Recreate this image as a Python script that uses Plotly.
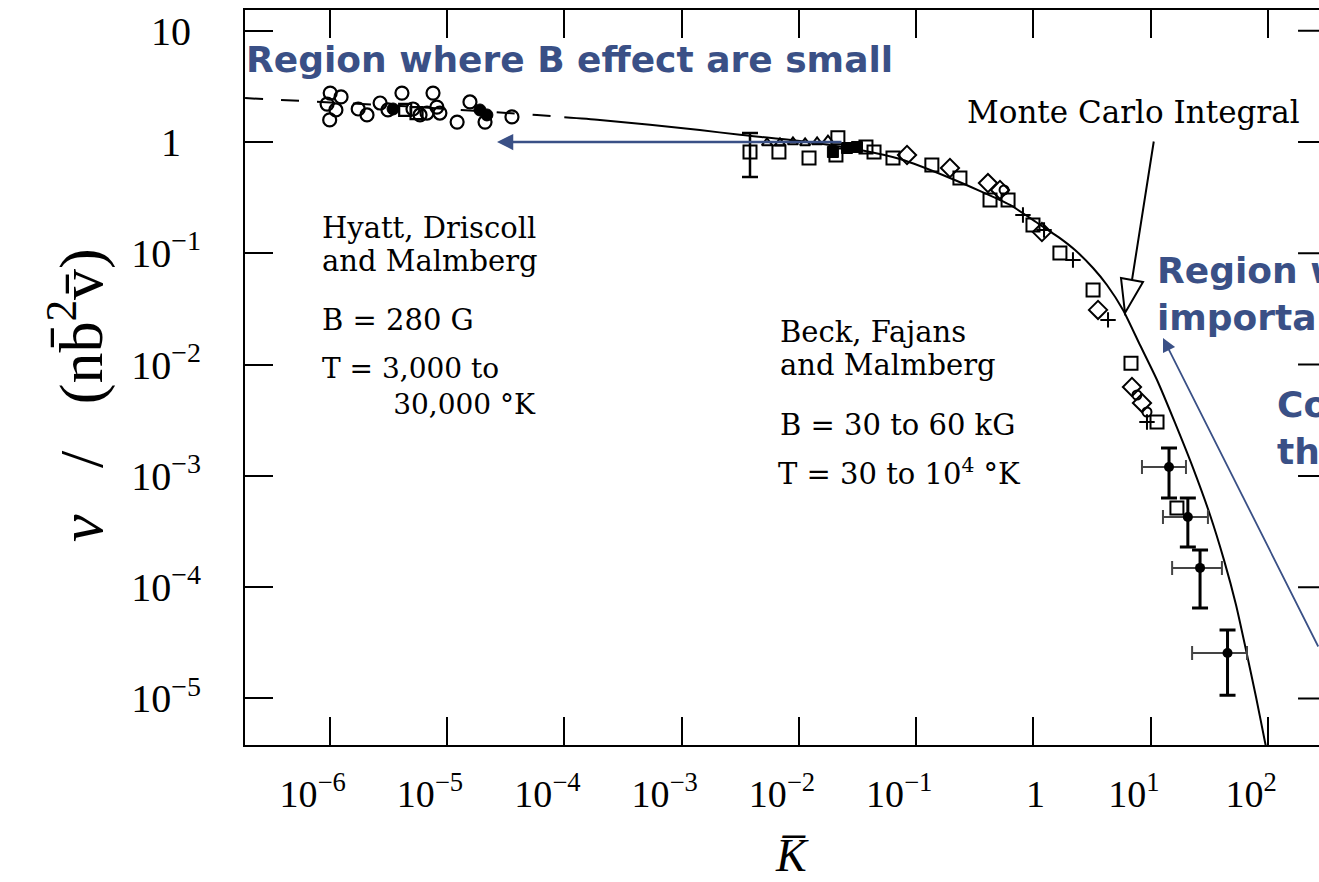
import plotly.graph_objects as go

# ---------------- data ----------------
# Monte Carlo integral (theory); drawn dashed below DASH_UNTIL
theory_kappa = [1.9e-7, 3.97e-6, 5.85e-5, 1.0e-4, 2.01e-4, 1.43e-3, 3.15e-3, 1.02e-2,
                3.32e-2, 7.28e-2, 0.194, 0.631, 1.05, 1.68, 2.26, 3.22, 4.23, 5.80,
                8.09, 11.3, 16.1, 22.9, 32.0, 42.1, 53.3, 64.8, 78.9, 94.1, 97.9]
theory_nu = [2.48, 2.11, 1.75, 1.67, 1.58, 1.28, 1.16, 1.02,
             0.848, 0.703, 0.475, 0.272, 0.191, 0.137, 0.107, 0.0738, 0.0519, 0.031,
             0.0150, 7.27e-3, 2.99e-3, 1.18e-3, 4.45e-4, 1.75e-4, 6.92e-5, 2.73e-5,
             1.03e-5, 4.07e-6, 3.31e-6]
DASH_UNTIL = 1.0e-4

# Hyatt, Driscoll and Malmberg
hyatt_open_kappa = [1.01e-6, 9.5e-7, 1.13e-6, 1.0e-6, 1.25e-6, 1.75e-6, 2.08e-6, 2.69e-6,
                    3.14e-6, 4.13e-6, 5.13e-6, 5.89e-6, 6.75e-6, 7.6e-6, 8.2e-6, 8.7e-6,
                    1.22e-5, 1.57e-5, 2.11e-5, 3.58e-5]
hyatt_open_nu = [2.75, 2.19, 1.94, 1.58, 2.54, 1.98, 1.75, 2.24,
                 1.94, 2.75, 1.98, 1.75, 1.82, 2.75, 2.06, 1.82,
                 1.51, 2.29, 1.51, 1.68]
hyatt_filled_kappa = [3.47e-6, 1.91e-5, 2.19e-5]
hyatt_filled_nu = [1.98, 1.94, 1.75]
hyatt_square_kappa = [4.4e-6, 5.5e-6]
hyatt_square_nu = [1.94, 1.82]

# Beck, Fajans and Malmberg
beck_square_kappa = [6.76e-3, 1.22e-2, 2.07e-2, 2.15e-2, 3.73e-2, 4.37e-2, 6.34e-2, 0.136,
                     0.236, 0.426, 0.607, 0.99, 1.68, 3.22, 6.78, 11.3, 16.7]
beck_square_nu = [0.813, 0.718, 0.764, 1.09, 0.902, 0.813, 0.718, 0.621,
                  0.475, 0.301, 0.301, 0.180, 0.1007, 0.0468, 0.0103, 3.05e-3, 5.15e-4]
beck_diamond_kappa = [8.35e-2, 0.194, 0.409, 0.518, 1.18, 3.55, 6.91, 8.41]
beck_diamond_nu = [0.764, 0.584, 0.428, 0.371, 0.155, 0.031, 6.29e-3, 4.52e-3]
beck_triangle_kappa = [5.35e-3, 6.9e-3, 8.9e-3, 1.13e-2, 1.43e-2, 1.77e-2]
beck_triangle_nu = [0.98, 0.98, 1.0, 0.98, 1.0, 1.04]
beck_cross_kappa = [0.813, 1.23, 2.17, 4.32, 9.28]
beck_cross_nu = [0.221, 0.162, 0.0871, 0.0252, 3.05e-3]
beck_circle_kappa = [0.561, 7.62, 9.28]
beck_circle_nu = [0.371, 5.33e-3, 3.75e-3]
beck_filled_kappa = [1.95e-2, 2.57e-2, 3.13e-2]
beck_filled_nu = [0.813, 0.883, 0.902]

# single point with vertical error bar
eb_kappa = [3.83e-3]
eb_nu = [0.813]
eb_nu_lo = [0.485]
eb_nu_hi = [1.205]

# strongly magnetized points with error bars in both directions
mag_kappa = [14.3, 20.7, 26.3, 45.1]
mag_kappa_lo = [8.41, 12.7, 15.2, 22.5]
mag_kappa_hi = [19.95, 30.7, 40.4, 66.1]
mag_nu = [1.20e-3, 4.27e-4, 1.49e-4, 2.56e-5]
mag_nu_lo = [6.33e-4, 2.30e-4, 6.5e-5, 1.07e-5]
mag_nu_hi = [1.78e-3, 6.33e-4, 2.16e-4, 4.12e-5]

# axis ticks
x_tickvals = [1e-6, 1e-5, 1e-4, 1e-3, 1e-2, 1e-1, 1, 1e1, 1e2]
x_ticktext = ["10<sup>−6</sup>", "10<sup>−5</sup>", "10<sup>−4</sup>", "10<sup>−3</sup>",
              "10<sup>−2</sup>", "10<sup>−1</sup>", "&nbsp;&nbsp;&nbsp;&nbsp;1",
              "10<sup>1</sup>", "10<sup>2</sup>"]
y_tickvals = [1e1, 1, 1e-1, 1e-2, 1e-3, 1e-4, 1e-5]
y_ticktext = ["10&nbsp;", "1&nbsp;&nbsp;", "10<sup>−1</sup>", "10<sup>−2</sup>",
              "10<sup>−3</sup>", "10<sup>−4</sup>", "10<sup>−5</sup>"]

# ---------------- layout geometry ----------------
FIG_W, FIG_H = 1319, 882
PLOT_L, PLOT_R, PLOT_T, PLOT_B = 245, 1319, 10, 745
X_RANGE = [-6.722, 2.434]
Y_RANGE = [-5.418, 1.186]

INK = "black"
BLUE = "#3A5086"
SERIF = "Liberation Serif"
TYPE = "DejaVu Serif"
SANS = "DejaVu Sans"


def to_paper(px, py):
    return (px - PLOT_L) / (PLOT_R - PLOT_L), (PLOT_B - py) / (PLOT_B - PLOT_T)


fig = go.Figure()

# theory curve
dash_k = [k for k in theory_kappa if k <= DASH_UNTIL]
dash_n = [n for k, n in zip(theory_kappa, theory_nu) if k <= DASH_UNTIL]
solid_k = [k for k in theory_kappa if k >= DASH_UNTIL]
solid_n = [n for k, n in zip(theory_kappa, theory_nu) if k >= DASH_UNTIL]
fig.add_trace(go.Scatter(x=dash_k, y=dash_n, mode="lines",
                         line=dict(color=INK, width=2, dash="18px,18px")))
fig.add_trace(go.Scatter(x=solid_k, y=solid_n, mode="lines",
                         line=dict(color=INK, width=2, shape="spline", smoothing=0.6)))


def markers(kx, ny, symbol, size, width=2):
    fig.add_trace(go.Scatter(
        x=kx, y=ny, mode="markers", cliponaxis=False,
        marker=dict(symbol=symbol, size=size, color=INK,
                    line=dict(color=INK, width=width))))


markers(hyatt_open_kappa, hyatt_open_nu, "circle-open", 13, 2.2)
markers(hyatt_filled_kappa, hyatt_filled_nu, "circle", 12, 1)
markers(hyatt_square_kappa, hyatt_square_nu, "square-open", 12, 2.2)
markers(beck_square_kappa, beck_square_nu, "square-open", 13, 2)
markers(beck_diamond_kappa, beck_diamond_nu, "diamond-open", 14, 2)
markers(beck_triangle_kappa, beck_triangle_nu, "triangle-up-open", 9, 2)
markers(beck_cross_kappa, beck_cross_nu, "cross-thin-open", 11, 2)
markers(beck_circle_kappa, beck_circle_nu, "circle-open", 9, 2)
markers(beck_filled_kappa, beck_filled_nu, "square", 11, 1)

fig.add_trace(go.Scatter(
    x=eb_kappa, y=eb_nu, mode="markers",
    marker=dict(symbol="square-open", size=13, color=INK, line=dict(color=INK, width=2)),
    error_y=dict(type="data", symmetric=False,
                 array=[h - v for h, v in zip(eb_nu_hi, eb_nu)],
                 arrayminus=[v - l for v, l in zip(eb_nu, eb_nu_lo)],
                 color=INK, thickness=2.5, width=8)))

fig.add_trace(go.Scatter(
    x=mag_kappa, y=mag_nu, mode="markers",
    marker=dict(symbol="circle", size=10, color=INK),
    error_x=dict(type="data", symmetric=False,
                 array=[h - v for h, v in zip(mag_kappa_hi, mag_kappa)],
                 arrayminus=[v - l for v, l in zip(mag_kappa, mag_kappa_lo)],
                 color="#444444", thickness=2, width=7),
    error_y=dict(type="data", symmetric=False,
                 array=[h - v for h, v in zip(mag_nu_hi, mag_nu)],
                 arrayminus=[v - l for v, l in zip(mag_nu, mag_nu_lo)],
                 color=INK, thickness=3, width=8)))

# inward ticks of the right-hand frame
rx, ry = [], []
for v in y_tickvals:
    rx += [180, 1000, None]
    ry += [v, v, None]
fig.add_trace(go.Scatter(x=rx, y=ry, mode="lines", line=dict(color=INK, width=2)))

annotations = []


def text(s, px, py, size, font=TYPE, color=INK, anchor="left", **kw):
    x, y = to_paper(px, py)
    annotations.append(dict(text=s, x=x, y=y, xref="paper", yref="paper",
                            xanchor=anchor, yanchor="middle", showarrow=False,
                            align="left", font=dict(family=font, size=size, color=color), **kw))


# typewritten labels of the figure
text("Monte Carlo Integral", 965, 112, 31)
text("Hyatt, Driscoll", 320, 228, 29)
text("and Malmberg", 320, 261, 29)
text("B = 280 G", 320, 320, 29)
text("T = 3,000 to<br>" + "&nbsp;" * 8 + "30,000 °K", 320, 386, 28)
text("Beck, Fajans", 778, 332, 29)
text("and Malmberg", 778, 365, 29)
text("B = 30 to 60 kG", 778, 425, 29)
text("T = 30 to 10<sup>4</sup> °K", 776, 472, 29)

# axis titles
text("<i>ν</i>&nbsp;&nbsp;&nbsp;/&nbsp;&nbsp;&nbsp;(nb̄<sup>2</sup>v̄)", 76, 395, 62,
     font=SERIF, anchor="center", textangle=-90)
text("<i>K̅</i>", 792, 855, 46, font=SERIF, anchor="center")

# blue overlay notes
text("<b>Region where B effect are small</b>", 244, 60, 36, font=SANS, color=BLUE)
text("<b>Region where B effect are<br>important</b>", 1155, 294, 36, font=SANS, color=BLUE)
text("<b>Compare with<br>theory</b>", 1275, 428, 36, font=SANS, color=BLUE)

# blue arrows
tip_x, tip_y = to_paper(497, 142)
annotations.append(dict(x=tip_x, y=tip_y, xref="paper", yref="paper", text="",
                        showarrow=True, ax=346, ay=0, arrowhead=2, arrowsize=1.3,
                        arrowwidth=2.5, arrowcolor=BLUE))
tip_x, tip_y = to_paper(1163, 338)
annotations.append(dict(x=tip_x, y=tip_y, xref="paper", yref="paper", text="",
                        showarrow=True, ax=177, ay=310, arrowhead=2, arrowsize=1.5,
                        arrowwidth=1.8, arrowcolor=BLUE))

# black pointer of the Monte Carlo label with an open head
tip_x, tip_y = to_paper(1132, 280)
annotations.append(dict(x=tip_x, y=tip_y, xref="paper", yref="paper", text="",
                        showarrow=True, ax=22, ay=-140, arrowhead=0, arrowwidth=2,
                        arrowcolor=INK))
p1 = to_paper(1121, 278)
p2 = to_paper(1143, 282)
p3 = to_paper(1125, 313)
head_path = "M {0},{1} L {2},{3} L {4},{5} Z".format(p1[0], p1[1], p2[0], p2[1], p3[0], p3[1])

fig.update_layout(
    width=FIG_W, height=FIG_H,
    margin=dict(l=PLOT_L, r=FIG_W - PLOT_R, t=PLOT_T, b=FIG_H - PLOT_B, pad=0),
    paper_bgcolor="white", plot_bgcolor="white",
    showlegend=False,
    annotations=annotations,
    shapes=[dict(type="path", path=head_path, xref="paper", yref="paper",
                 fillcolor="white", line=dict(color=INK, width=2), layer="above")],
    xaxis=dict(type="log", range=X_RANGE, showgrid=False, zeroline=False,
               showline=True, linecolor=INK, linewidth=2, mirror="ticks",
               ticks="inside", ticklen=28, tickwidth=2, tickcolor=INK,
               tickvals=x_tickvals, ticktext=x_ticktext, ticklabelshift=-17,
               ticklabelstandoff=14,
               tickfont=dict(family=SERIF, size=38, color=INK)),
    yaxis=dict(type="log", range=Y_RANGE, showgrid=False, zeroline=False,
               showline=True, linecolor=INK, linewidth=2,
               ticks="inside", ticklen=28, tickwidth=2, tickcolor=INK,
               tickvals=y_tickvals, ticktext=y_ticktext, ticklabelstandoff=34,
               tickfont=dict(family=SERIF, size=40, color=INK)),
)

fig.write_html("out.html")
